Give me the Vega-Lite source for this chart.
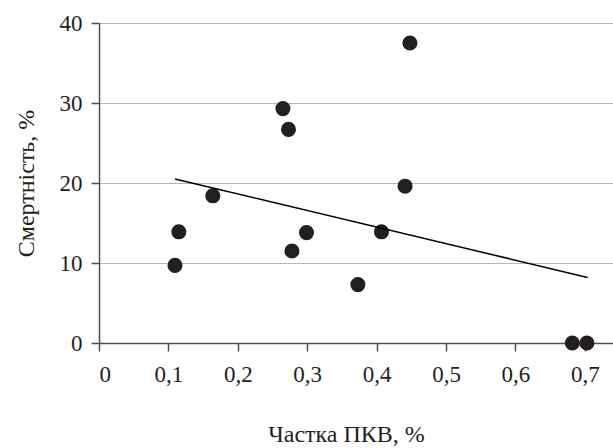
{
  "$schema": "https://vega.github.io/schema/vega-lite/v6.json",
  "width": 514,
  "height": 320,
  "autosize": "none",
  "padding": {"left": 99, "top": 23, "right": 0, "bottom": 105},
  "background": "white",
  "config": {
    "view": {"stroke": null},
    "font": "Liberation Serif",
    "axis": {
      "labelFont": "Liberation Serif",
      "titleFont": "Liberation Serif",
      "labelFontSize": 23,
      "titleFontSize": 24,
      "labelColor": "#231f20",
      "titleColor": "#231f20",
      "titleFontWeight": "normal",
      "domainColor": "#4d4d4d",
      "domainWidth": 1.5,
      "tickColor": "#4d4d4d",
      "tickWidth": 1.5,
      "gridColor": "#b5b5b5",
      "gridWidth": 1
    }
  },
  "datasets": {
    "points": [
      {"share": 0.1095, "mortality": 9.7},
      {"share": 0.115, "mortality": 13.9},
      {"share": 0.164, "mortality": 18.4},
      {"share": 0.265, "mortality": 29.3},
      {"share": 0.273, "mortality": 26.7},
      {"share": 0.278, "mortality": 11.5},
      {"share": 0.299, "mortality": 13.8},
      {"share": 0.373, "mortality": 7.3},
      {"share": 0.407, "mortality": 13.9},
      {"share": 0.441, "mortality": 19.6},
      {"share": 0.448, "mortality": 37.5},
      {"share": 0.682, "mortality": 0},
      {"share": 0.703, "mortality": 0}
    ],
    "trend": [
      {"share": 0.1095, "mortality": 20.5},
      {"share": 0.704, "mortality": 8.2}
    ]
  },
  "layer": [
    {
      "data": {"name": "points"},
      "mark": {"type": "point", "filled": true, "shape": "circle", "size": 227, "color": "#231f20", "opacity": 1},
      "encoding": {
        "x": {
          "field": "share",
          "type": "quantitative",
          "scale": {"domain": [0, 0.7406], "nice": false, "zero": true},
          "axis": {
            "title": "Частка ПКВ, %",
            "values": [0, 0.1, 0.2, 0.3, 0.4, 0.5, 0.6, 0.7],
            "labelExpr": "replace(format(datum.value, '.1~f'), '.', ',')",
            "grid": false,
            "tickSize": 8,
            "labelPadding": 12,
            "titleX": 247,
            "titleY": 98,
            "titleBaseline": "alphabetic",
            "titleAnchor": "middle",
            "titleAlign": "center"
          }
        },
        "y": {
          "field": "mortality",
          "type": "quantitative",
          "scale": {"domain": [0, 40], "nice": false},
          "axis": {
            "title": "Смертність, %",
            "values": [0, 5, 10, 15, 20, 25, 30, 35, 40],
            "labelExpr": "datum.value % 10 == 0 ? datum.label : ''",
            "grid": true,
            "gridOpacity": {"condition": {"test": "datum.value % 10 == 0 && datum.value > 0", "value": 1}, "value": 0},
            "tickSize": {"condition": {"test": "datum.value % 10 == 0", "value": 8}, "value": 6},
            "labelPadding": 9,
            "titleX": -66,
            "titleY": 160,
            "titleBaseline": "alphabetic",
            "titleAngle": -90,
            "titleAlign": "center"
          }
        }
      }
    },
    {
      "data": {"name": "trend"},
      "mark": {"type": "line", "color": "#000000", "strokeWidth": 1.5},
      "encoding": {
        "x": {"field": "share", "type": "quantitative"},
        "y": {"field": "mortality", "type": "quantitative"}
      }
    }
  ]
}
